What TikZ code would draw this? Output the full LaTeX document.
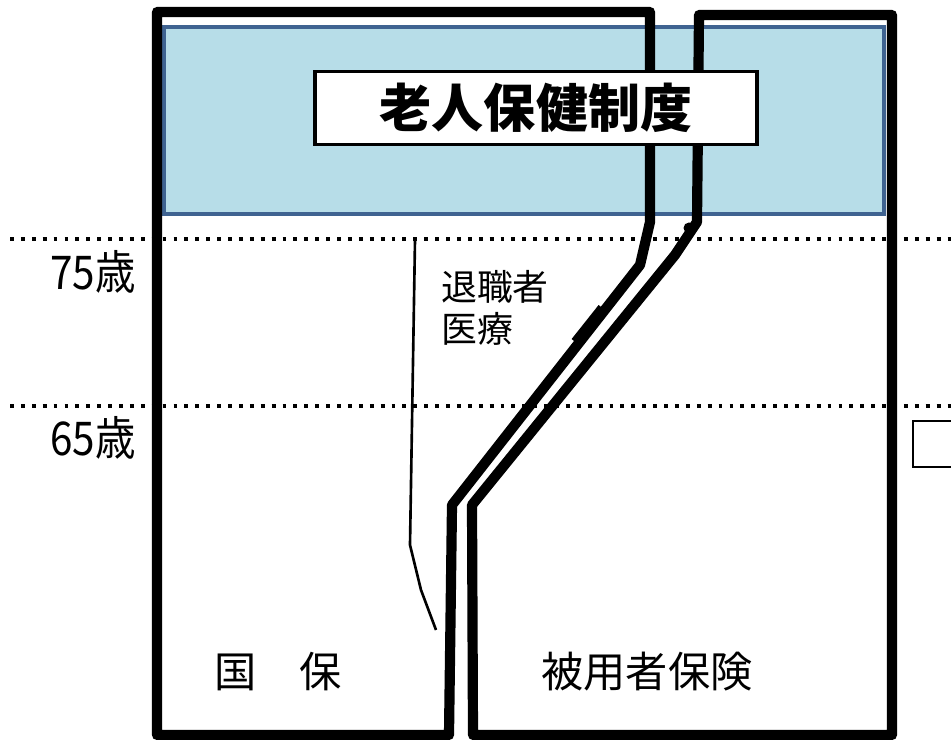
\documentclass[tikz,border=0pt]{standalone}
\usepackage{fontspec}
\newfontfamily\jpfont{Noto Sans CJK JP}
\definecolor{bandfill}{HTML}{B7DDE8}
\definecolor{bandedge}{HTML}{3F6391}
\begin{document}
\begin{tikzpicture}[x=0.01cm,y=-0.01cm,
  wall/.style={line width=2.9pt, line join=round},
  agebar/.style={line width=1.1pt, dash pattern=on 1.1pt off 2pt},
  jptext/.style={font=\jpfont\fontsize{#1}{12}\selectfont, inner sep=0pt}]
\useasboundingbox (0,0) rectangle (951,740);
\clip (0,0) rectangle (951,740);
\fill[white] (0,0) rectangle (951,740);
\draw[bandedge, line width=1.1pt, fill=bandfill] (164,27) rectangle (884,214);
\draw[agebar] (10,239) -- (951,239);
\draw[agebar] (10,406) -- (951,406);
\draw[wall] (449,735) -- (157,735) -- (157,12) -- (650,12) -- (650,222) -- (640,265) -- (452,505) -- cycle;
\draw[wall] (473,735) -- (472,505) -- (675,255) -- (697,222) -- (699,15) -- (892,15) -- (892,735) -- cycle;
\draw[line width=2.9pt] (602.6,308.2) -- (575.6,342.2);
\fill (689,228) circle (5.5);
\draw[line width=0.75pt] (415,240) -- (410,545) -- (421,590) -- (436,630);
\draw[line width=0.5pt] (913,421) rectangle (970,467);
\node[draw, line width=1.1pt, fill=white, minimum width=4.42cm, minimum height=0.66cm,
  font=\jpfont\bfseries\fontsize{14.8}{17}\selectfont] (rouken) at (536,108) {老人保健制度};
\node[jptext=11.5, yscale=1.15] (age75) at (93,272) {75歳};
\node[jptext=11.5, yscale=1.15] (age65) at (93,438) {65歳};
\node[jptext=12] (kokuho) at (278,672) {国　保};
\node[jptext=12] (hiyosha) at (647,672) {被用者保険};
\node[jptext=10.2, align=left] (taishoku) at (495,308) {退職者\\医療};
\end{tikzpicture}
\end{document}
